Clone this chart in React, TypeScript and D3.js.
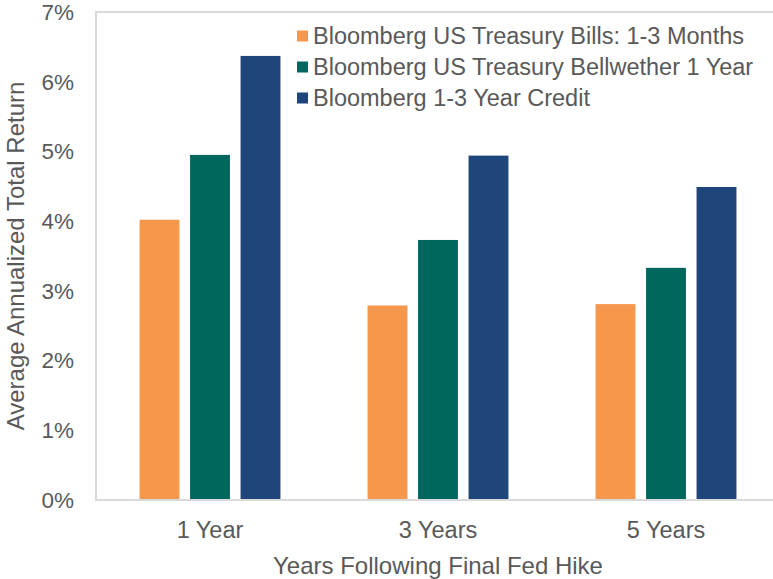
import React, { useRef, useEffect } from "react";
import * as d3 from "d3";

// categories along the x axis
const periods = ["1 Year", "3 Years", "5 Years"];

// series names (legend) and colours
const seriesNames = [
  "Bloomberg US Treasury Bills: 1-3 Months",
  "Bloomberg US Treasury Bellwether 1 Year",
  "Bloomberg 1-3 Year Credit",
];
const seriesColors = ["#F5974C", "#00675F", "#1F467B"];

// values in percent, one array per series, in the order of periods
const tBills = [4.02, 2.79, 2.81];
const bellwether = [4.95, 3.73, 3.33];
const credit = [6.37, 4.94, 4.49];

const yTicks = [0, 1, 2, 3, 4, 5, 6, 7];

const App = () => {
  const chartRef = useRef<SVGSVGElement>(null);

  useEffect(() => {
    const width = 773;
    const height = 579;
    const margin = { top: 12, right: -7, bottom: 79, left: 96 };
    const textColor = "#595959";
    const font = "'Liberation Sans', Arial, sans-serif";

    const seriesValues = [tBills, bellwether, credit];
    const rows = periods.map((p, i) => ({
      period: p,
      values: seriesNames.map((s, j) => ({ series: s, value: seriesValues[j][i] })),
    }));

    const svg = d3.select(chartRef.current);
    svg.selectAll("*").remove();
    svg.attr("width", width).attr("height", height);

    const x0 = d3.scaleBand()
      .domain(periods)
      .range([margin.left, width - margin.right])
      .paddingInner(0.382)
      .paddingOuter(0.191);

    const x1 = d3.scaleBand()
      .domain(seriesNames)
      .range([0, x0.bandwidth()])
      .paddingInner(0.21);

    const y = d3.scaleLinear()
      .domain([0, 7])
      .range([height - margin.bottom, margin.top]);

    const color = d3.scaleOrdinal<string>().domain(seriesNames).range(seriesColors);

    // plot area border
    svg.append("rect")
      .attr("x", margin.left)
      .attr("y", margin.top)
      .attr("width", width - margin.right - margin.left)
      .attr("height", y(0) - margin.top)
      .attr("fill", "none")
      .attr("stroke", "#d9d9d9")
      .attr("stroke-width", 2);

    // bars
    svg.append("g")
      .selectAll("g")
      .data(rows)
      .enter()
      .append("g")
      .attr("transform", d => `translate(${x0(d.period)},0)`)
      .selectAll("rect")
      .data(d => d.values)
      .enter()
      .append("rect")
      .attr("x", d => x1(d.series)!)
      .attr("y", d => y(d.value))
      .attr("width", x1.bandwidth())
      .attr("height", d => y(0) - y(d.value))
      .attr("fill", d => color(d.series));

    // baseline
    svg.append("line")
      .attr("x1", margin.left)
      .attr("x2", width - margin.right)
      .attr("y1", y(0))
      .attr("y2", y(0))
      .attr("stroke", "#d9d9d9")
      .attr("stroke-width", 2);

    // y tick labels
    svg.append("g")
      .selectAll("text")
      .data(yTicks)
      .enter()
      .append("text")
      .attr("x", 74)
      .attr("y", d => y(d))
      .attr("dy", "0.35em")
      .attr("text-anchor", "end")
      .attr("font-family", font)
      .attr("font-size", 22.5)
      .attr("fill", textColor)
      .text(d => `${d}%`);

    // x category labels
    svg.append("g")
      .selectAll("text")
      .data(periods)
      .enter()
      .append("text")
      .attr("x", d => x0(d)! + x0.bandwidth() / 2)
      .attr("y", 538)
      .attr("text-anchor", "middle")
      .attr("font-family", font)
      .attr("font-size", 23.5)
      .attr("fill", textColor)
      .text(d => d);

    // axis titles
    svg.append("text")
      .attr("x", (margin.left + width - margin.right) / 2)
      .attr("y", 574)
      .attr("text-anchor", "middle")
      .attr("font-family", font)
      .attr("font-size", 24)
      .attr("fill", textColor)
      .text("Years Following Final Fed Hike");

    svg.append("text")
      .attr("transform", `translate(24, ${(margin.top + y(0)) / 2}) rotate(-90)`)
      .attr("text-anchor", "middle")
      .attr("font-family", font)
      .attr("font-size", 24)
      .attr("fill", textColor)
      .text("Average Annualized Total Return");

    // legend
    const legend = svg.append("g")
      .selectAll("g")
      .data(seriesNames)
      .enter()
      .append("g")
      .attr("transform", (d, i) => `translate(297, ${36 + i * 31})`);

    legend.append("rect")
      .attr("x", 0)
      .attr("y", -5.5)
      .attr("width", 11)
      .attr("height", 11)
      .attr("fill", d => color(d));

    legend.append("text")
      .attr("x", 16)
      .attr("y", 0)
      .attr("dy", "0.35em")
      .attr("font-family", font)
      .attr("font-size", 23.5)
      .attr("fill", textColor)
      .text(d => d);
  }, []);

  return (
    <svg
      ref={chartRef}
      style={{ position: "absolute", left: 0, top: 0, background: "#fff" }}
    ></svg>
  );
};

export default App;
